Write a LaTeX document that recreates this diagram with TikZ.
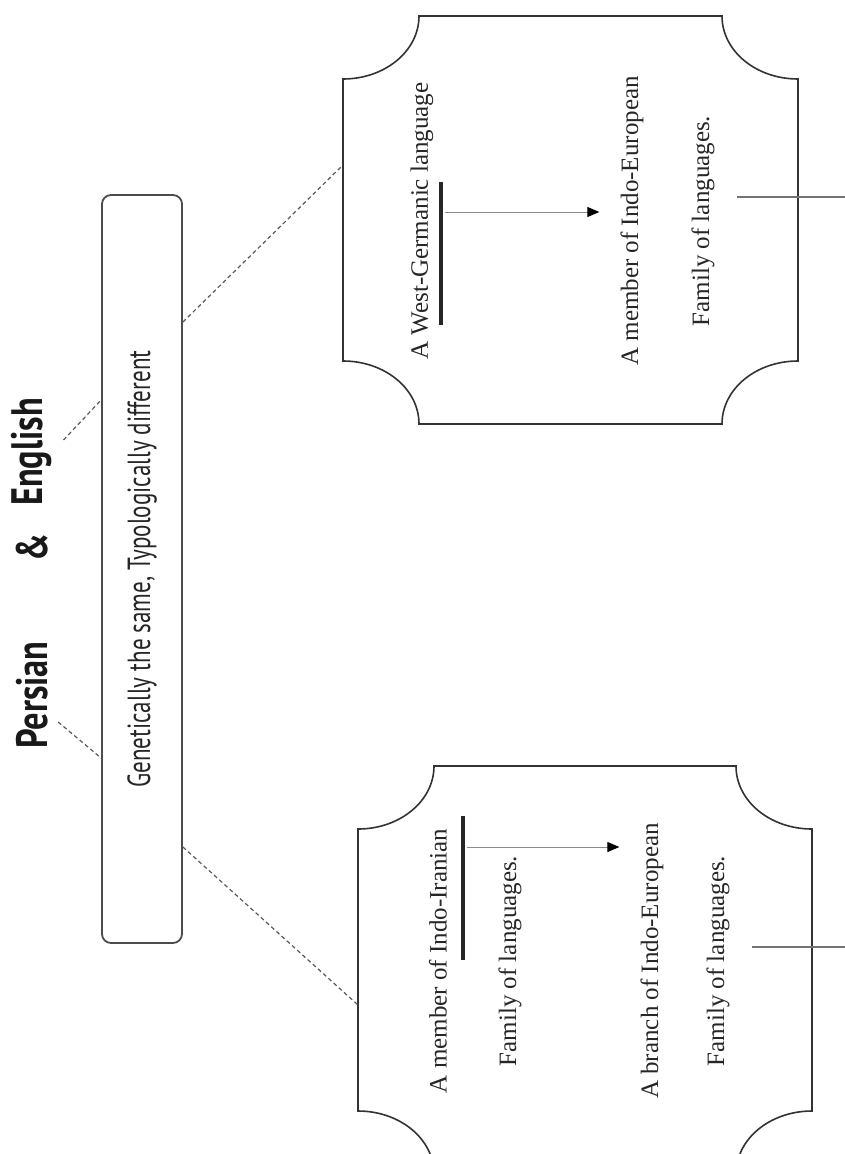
\documentclass[tikz,border=0pt]{standalone}
\usepackage{fontspec}
\newfontfamily\headfont[FakeStretch=0.78]{PT Sans}
\newfontfamily\bandfont[FakeStretch=0.72]{PT Sans}
\newfontfamily\cardfont{Liberation Serif}
\usetikzlibrary{arrows.meta, calc}

% card outline with concave corners: x1, y1 (top), x2, y2 (bottom)
\newcommand{\cardpath}[4]{%
  (#1,{#2+63}) -- (#1,{#4-63})
  .. controls ({#1+42},{#4-63}) and ({#1+76},{#4-35}) .. ({#1+76},#4)
  -- ({#3-76},#4)
  .. controls ({#3-76},{#4-35}) and ({#3-42},{#4-63}) .. (#3,{#4-63})
  -- (#3,{#2+63})
  .. controls ({#3-42},{#2+63}) and ({#3-76},{#2+35}) .. ({#3-76},#2)
  -- ({#1+76},#2)
  .. controls ({#1+76},{#2+35}) and ({#1+42},{#2+63}) .. (#1,{#2+63}) -- cycle}

\begin{document}
\begin{tikzpicture}[
  x=1pt, y=-1pt,
  headword/.style = {rotate=90, inner sep=2pt, text=black!90,
                     font=\headfont\bfseries\fontsize{44}{48}\selectfont},
  band/.style     = {draw=black!70, line width=1.8pt, rounded corners=9pt,
                     rotate=90, minimum width=748pt, minimum height=80pt,
                     text=black!85, font=\bandfont\fontsize{32}{36}\selectfont},
  cardline/.style = {draw=black!80, line width=1.6pt},
  cardtext/.style = {rotate=90, inner sep=1pt, text=black!85,
                     font=\cardfont\fontsize{25}{28}\selectfont},
  keybar/.style   = {line width=3.5pt, black!85},
  pointer/.style  = {draw=black!45, line width=1pt, shorten >=20pt,
                     -{Triangle[length=12pt, width=10pt, black]}},
  linkdash/.style = {black!65, line width=1.2pt, dash pattern=on 4pt off 3pt},
  outlead/.style  = {black!55, line width=1.8pt}
]
\clip (0,0) rectangle (845,1154);

% ── Title and band ───────────────────────────────────────────────
\node[headword] (english) at (32,452) {English};
\node[headword] (amp)     at (32,548) {\&};
\node[headword] (persian) at (32,695) {Persian};
\node[band] (gen) at (142,569) {Genetically the same, Typologically different};

% ── Cards ────────────────────────────────────────────────────────
\draw[cardline] \cardpath{343}{16}{798}{424};
\draw[cardline] \cardpath{358}{766}{812}{1174};
\coordinate (engcard) at (343,165);
\coordinate (percard) at (358,1005);

% English card
\node[cardtext] (westgerm)  at (422,221) {A West-Germanic language};
\node[cardtext] (iemember)  at (632,221) {A member of Indo-European};
\node[cardtext] (engfamily) at (703,221) {Family of languages.};

% Persian card
\node[cardtext] (iimember)  at (438,961) {A member of Indo-Iranian};
\node[cardtext] (iifamily)  at (510,961) {Family of languages.};
\node[cardtext] (iebranch)  at (652,961) {A branch of Indo-European};
\node[cardtext] (perfamily) at (718,961) {Family of languages.};

% ── Key bars and arrows ──────────────────────────────────────────
\coordinate (wgbar-a) at (441,182);
\coordinate (wgbar-b) at (441,325);
\coordinate (wgbar-c) at (445,212);
\coordinate (iibar-a) at (463,816);
\coordinate (iibar-b) at (463,960);
\coordinate (iibar-c) at (467,847);
\draw[keybar] (wgbar-a) -- (wgbar-b);
\draw[keybar] (iibar-a) -- (iibar-b);
\draw[pointer] (wgbar-c) -- (wgbar-c -| iemember.north);
\draw[pointer] (iibar-c) -- (iibar-c -| iebranch.north);

% ── Leads off the right edge ─────────────────────────────────────
\coordinate (englead) at (737,197);
\coordinate (engout)  at (860,197);
\coordinate (perlead) at (752,947);
\coordinate (perout)  at (860,947);
\draw[outlead] (englead) -- (engout);
\draw[outlead] (perlead) -- (perout);

% ── Dashed links ─────────────────────────────────────────────────
\draw[linkdash] ($(english.south)+(9,-12)$) -- ($(gen.north)+(0,-169)$);
\draw[linkdash] ($(persian.south)+(8,27)$)  -- ($(gen.north)+(0,189)$);
\draw[linkdash] ($(gen.south)+(0,-247)$) -- (engcard);
\draw[linkdash] ($(gen.south)+(0,278)$)  -- (percard);

\end{tikzpicture}
\end{document}
